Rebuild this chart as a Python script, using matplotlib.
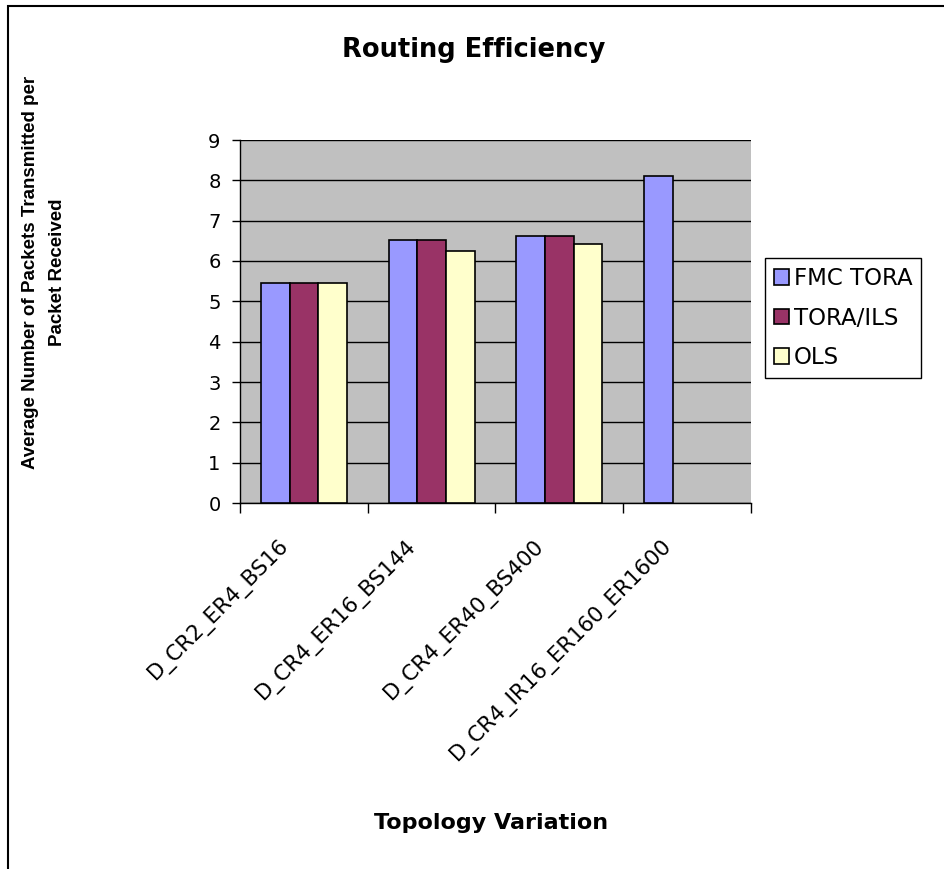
import numpy as np
import matplotlib
matplotlib.use("Agg")
import matplotlib.pyplot as plt
from matplotlib.patches import Rectangle

categories = ["D_CR2_ER4_BS16", "D_CR4_ER16_BS144", "D_CR4_ER40_BS400", "D_CR4_IR16_ER160_ER1600"]
series_names = ["FMC TORA", "TORA/ILS", "OLS"]
fmc_tora = [5.45, 6.52, 6.63, 8.10]
tora_ils = [5.45, 6.52, 6.63, np.nan]
ols = [5.45, 6.24, 6.43, np.nan]
colors = ["#9999FF", "#993366", "#FFFFCC"]
yticks = list(range(0, 10))

plt.rcParams['font.family'] = ['DejaVu Sans']

fig = plt.figure(figsize=(9.45, 8.69), dpi=100)
W, H = 945, 869
L, R, T, B = 240, 751, 140, 503
ax = fig.add_axes([L / W, 1 - B / H, (R - L) / W, (B - T) / H])
ax.set_facecolor("#C0C0C0")

x = np.arange(len(categories)) + 0.5
bw = 0.224
for i, (vals, name, c) in enumerate(zip([fmc_tora, tora_ils, ols], series_names, colors)):
    ax.bar(x + (i - 1) * bw, vals, width=bw, color=c, edgecolor="black", linewidth=1.2,
           label=name, zorder=3)

ax.set_xlim(0, len(categories))
ax.set_ylim(0, 9)
ax.set_yticks(yticks)
ax.yaxis.grid(True, color="black", linewidth=1.0, zorder=1)
ax.set_axisbelow(True)
ax.set_xticks(np.arange(len(categories) + 1))
ax.set_xticklabels([])
ax.tick_params(axis='x', length=7, width=1, direction='out')
ax.tick_params(axis='y', length=6, width=1, direction='out', labelsize=14, pad=8)
for s in ["top", "right"]:
    ax.spines[s].set_visible(False)
ax.spines["left"].set_linewidth(1)
ax.spines["bottom"].set_linewidth(1)

for xi, lab in zip(x, categories):
    ax.text(xi - 0.2, -0.8, lab, rotation=45, rotation_mode='anchor', ha='right', va='top',
            fontsize=15.5, transform=ax.transData)

fig.text(474 / W, 1 - 50 / H, "Routing Efficiency", ha='center', va='center',
         fontsize=18.5, fontweight='bold')
fig.text(491 / W, 1 - 823 / H, "Topology Variation", ha='center', va='center',
         fontsize=16, fontweight='bold')
fig.text(44 / W, 1 - 272 / H, "Average Number of Packets Transmitted per\nPacket Received",
         rotation=90, ha='center', va='center', multialignment='center',
         fontsize=13.5, fontweight='bold', linespacing=1.75, family='Liberation Sans')

leg = fig.legend(loc='upper left', bbox_to_anchor=(765 / W, 1 - 258 / H), fontsize=16.5,
                 frameon=True, fancybox=False, edgecolor='black', framealpha=1,
                 handlelength=0.65, handleheight=0.65, handletextpad=0.2,
                 borderpad=0.4, labelspacing=0.72, borderaxespad=0)
leg.get_frame().set_linewidth(1)

fig.add_artist(Rectangle((8 / W, -0.1), 1.2, 1 - 6 / H + 0.1, transform=fig.transFigure,
                         fill=False, edgecolor='black', linewidth=1.5))

fig.savefig("out.png", dpi=100)
